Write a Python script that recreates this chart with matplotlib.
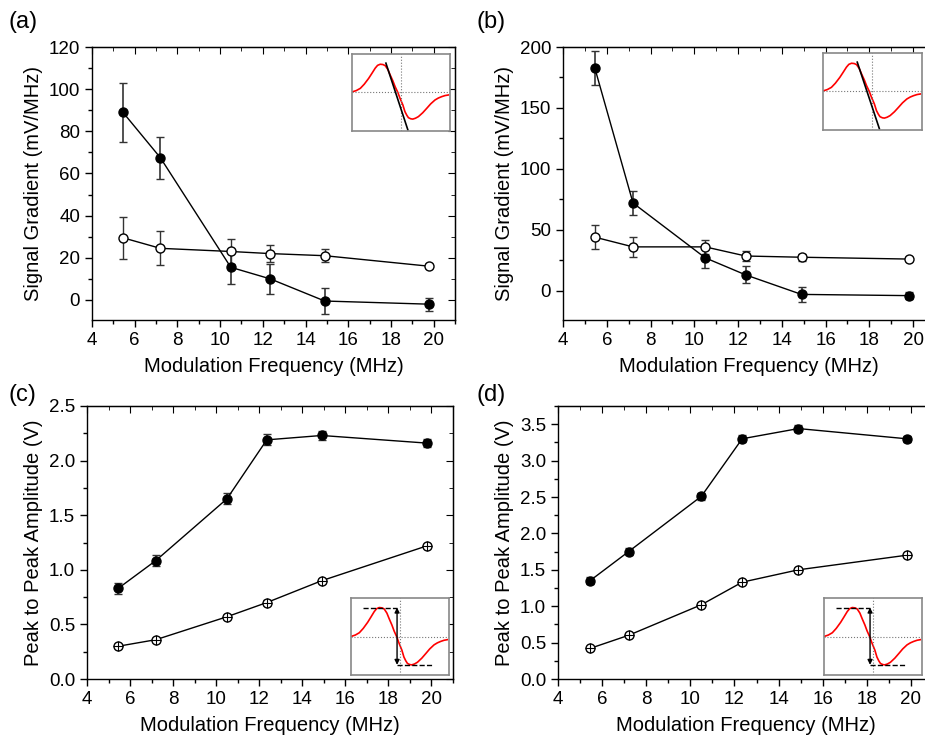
import matplotlib.pyplot as plt
from matplotlib.ticker import MultipleLocator

plt.rcParams['font.family'] = ['Liberation Sans', 'DejaVu Sans']

# modulation frequency (MHz)
freq = [5.45, 7.2, 10.5, 12.35, 14.9, 19.8]

# (a) signal gradient
a_fill = [89, 67.5, 15.5, 10, -0.5, -2]
a_fill_err = [14, 10, 8, 7, 6, 3]
a_open = [29.5, 24.5, 23, 22, 21, 16]
a_open_err = [10, 8, 6, 4, 3, 1]

# (b) signal gradient
b_fill = [183, 72, 27, 13, -3, -4]
b_fill_err = [14, 10, 8, 7, 6, 3]
b_open = [44, 36, 36, 28.5, 27.5, 26]
b_open_err = [10, 8, 6, 4, 3, 1.5]

# (c) peak to peak amplitude
c_fill = [0.83, 1.085, 1.65, 2.19, 2.23, 2.16]
c_fill_err = [0.05, 0.05, 0.05, 0.05, 0.04, 0.04]
c_open = [0.30, 0.36, 0.57, 0.70, 0.90, 1.22]
c_open_err = [0.02, 0.02, 0.02, 0.02, 0.02, 0.02]

# (d) peak to peak amplitude
d_fill = [1.35, 1.75, 2.51, 3.30, 3.44, 3.30]
d_fill_err = [0.05, 0.05, 0.05, 0.05, 0.05, 0.04]
d_open = [0.42, 0.60, 1.02, 1.33, 1.50, 1.70]
d_open_err = [0.02, 0.02, 0.02, 0.02, 0.02, 0.02]

# inset error signal trace (normalised)
sig_x = [0, 0.044, 0.085, 0.125, 0.17, 0.203, 0.237, 0.261, 0.288, 0.315,
         0.339, 0.366, 0.39, 0.417, 0.44, 0.468, 0.49, 0.519, 0.54, 0.559,
         0.576, 0.6, 0.62, 0.647, 0.678, 0.722, 0.763, 0.803, 0.847, 0.881,
         0.915, 0.95, 0.983]
sig_y = [0, 0.05, 0.13, 0.28, 0.49, 0.67, 0.86, 0.96, 1.0, 0.99,
         0.95, 0.81, 0.61, 0.40, 0.19, -0.02, -0.23, -0.47, -0.71, -0.84,
         -0.93, -0.97, -0.98, -0.95, -0.89, -0.75, -0.59, -0.43, -0.29, -0.22,
         -0.17, -0.13, -0.11]

W, H = 925, 738
fig = plt.figure(figsize=(W / 100, H / 100), dpi=100)


def px_axes(x0, y0, x1, y1):
    return fig.add_axes([x0 / W, 1 - y1 / H, (x1 - x0) / W, (y1 - y0) / H])


def panel(ax, yf, yfe, yo, yoe, ylim, major, minor, ylabel, plus=False):
    ax.errorbar(freq, yf, yerr=yfe, fmt='-o', color='black', mfc='black', ms=6.5,
                lw=1, elinewidth=1.2, capsize=3, ecolor='#333333', zorder=3)
    ax.errorbar(freq, yo, yerr=yoe, fmt='-o', color='black', mfc='white', ms=6.5,
                lw=1, elinewidth=1, capsize=3, ecolor='#333333', zorder=3)
    if plus:
        ax.plot(freq, yo, '+', color='black', ms=6.5, mew=0.8, zorder=4)
    ax.set_xlim(4, 21)
    ax.set_ylim(*ylim)
    ax.xaxis.set_major_locator(MultipleLocator(2))
    ax.xaxis.set_minor_locator(MultipleLocator(1))
    ax.yaxis.set_major_locator(MultipleLocator(major))
    ax.yaxis.set_minor_locator(MultipleLocator(minor))
    ax.tick_params(which='both', direction='out', labelsize=13.5, width=1)
    ax.tick_params(which='major', length=5)
    ax.tick_params(which='minor', length=3)
    for s in ax.spines.values():
        s.set_linewidth(1)
    # inward ticks on top and right
    tx = ax.secondary_xaxis('top')
    tx.xaxis.set_major_locator(MultipleLocator(2))
    tx.xaxis.set_minor_locator(MultipleLocator(1))
    tx.tick_params(which='both', direction='in', labeltop=False)
    tx.tick_params(which='major', length=5)
    tx.tick_params(which='minor', length=3)
    ty = ax.secondary_yaxis('right')
    ty.yaxis.set_major_locator(MultipleLocator(major))
    ty.yaxis.set_minor_locator(MultipleLocator(minor))
    ty.tick_params(which='both', direction='in', labelright=False)
    ty.tick_params(which='major', length=5)
    ty.tick_params(which='minor', length=3)
    ax.set_xlabel('Modulation Frequency (MHz)', fontsize=14.5, labelpad=6)
    ax.set_ylabel(ylabel, fontsize=14.5, labelpad=4)


def inset(box, kind):
    ins = px_axes(*box)
    ins.plot(sig_x, sig_y, color='red', lw=1.2)
    ins.axhline(0, color='#777777', lw=0.8, ls=':')
    ins.axvline(0.495, color='#777777', lw=0.8, ls=':')
    if kind == 'slope':
        ins.plot([0.346, 0.57], [1.04, -1.37], color='black', lw=1.2)
        ins.set_ylim(-1.41, 1.37)
    else:
        ins.plot([0.12, 0.47], [1.0, 1.0], '--', color='black', lw=1)
        ins.plot([0.47, 0.83], [-0.98, -0.98], '--', color='black', lw=1)
        ins.annotate('', xy=(0.47, 1.0), xytext=(0.47, -0.98),
                     arrowprops=dict(arrowstyle='<|-|>', color='black', lw=1,
                                     mutation_scale=7, shrinkA=0, shrinkB=0))
        ins.set_ylim(-1.33, 1.33)
    ins.set_xlim(0, 1)
    ins.set_xticks([])
    ins.set_yticks([])
    for s in ins.spines.values():
        s.set_color('#888888')
        s.set_linewidth(1.2)


ax_a = px_axes(92, 47, 455, 320)
panel(ax_a, a_fill, a_fill_err, a_open, a_open_err, (-9.5, 120), 20, 10,
      'Signal Gradient (mV/MHz)')
ax_b = px_axes(563, 47, 935, 320)
panel(ax_b, b_fill, b_fill_err, b_open, b_open_err, (-24, 200), 50, 25,
      'Signal Gradient (mV/MHz)')
ax_c = px_axes(87, 406, 453, 679)
panel(ax_c, c_fill, c_fill_err, c_open, c_open_err, (0, 2.5), 0.5, 0.25,
      'Peak to Peak Amplitude (V)', plus=True)
ax_d = px_axes(558, 406, 925 + 8, 679)
panel(ax_d, d_fill, d_fill_err, d_open, d_open_err, (0, 3.75), 0.5, 0.25,
      'Peak to Peak Amplitude (V)', plus=True)

inset((352, 54, 450, 131), 'slope')
inset((823, 53, 922, 130), 'slope')
inset((351, 598, 449, 675), 'pp')
inset((824, 598, 922, 675), 'pp')

for lbl, x, y in [('(a)', 8, 22), ('(b)', 477, 22), ('(c)', 8, 395), ('(d)', 477, 395)]:
    fig.text(x / W, 1 - y / H, lbl, fontsize=17, va='center', ha='left')

fig.savefig('out.png', dpi=100)
